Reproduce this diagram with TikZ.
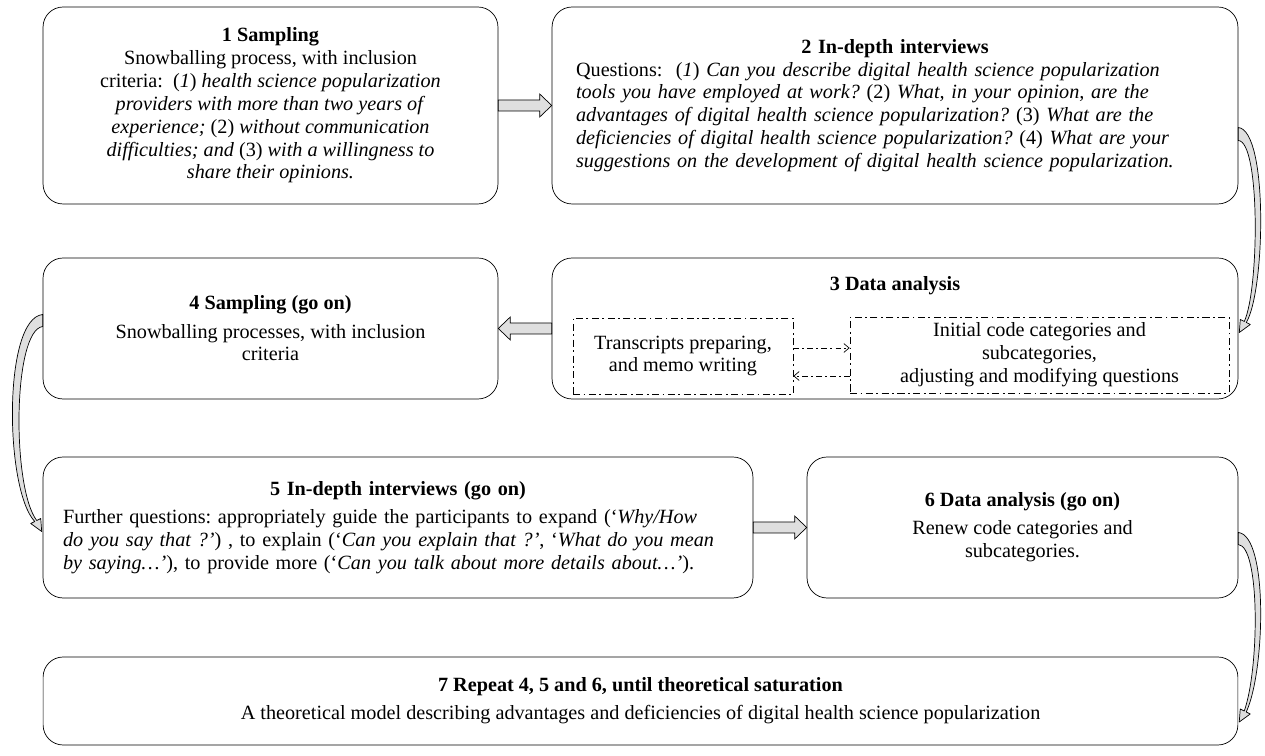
\documentclass[tikz,border=0pt]{standalone}
\usepackage{fontspec}
\setmainfont{Liberation Serif}
\usetikzlibrary{arrows.meta,calc,positioning}
\frenchspacing

% straight block arrow between two anchors (#3 = signed head length)
\newcommand{\blockarrow}[3]{%
  \filldraw[blockarr] ($(#1)+(0,-5.5)$) -- ($(#2)+(#3,-5.5)$) -- ($(#2)+(#3,-11.5)$) -- (#2)
    -- ($(#2)+(#3,11.5)$) -- ($(#2)+(#3,5.5)$) -- ($(#1)+(0,5.5)$) -- cycle;}

\begin{document}
\begin{tikzpicture}[x=0.02cm, y=-0.02cm,
    every node/.style={font=\fontsize{11.5}{13}\selectfont},
    stage/.style={draw, rounded corners=0.4cm, align=center, inner sep=0pt},
    inbox/.style={draw, dash pattern=on 4pt off 2pt on 1pt off 2pt, align=center, inner sep=0pt},
    blockarr/.style={draw, fill=gray!25, line join=miter},
    bendarr/.style={draw, fill=gray!25, line join=round},
    dashlink/.style={dash pattern=on 3pt off 2pt on 1pt off 2pt, -{Straight Barb[length=3pt,width=5pt]}}]
\useasboundingbox (0,0) rectangle (1265,756);

% row 1
\node[stage, minimum width=9.1cm, minimum height=3.94cm] (s1) at (270.5,105.5)
  {\textbf{1 Sampling}\\
   Snowballing process, with inclusion\\
   criteria:~~(\textit{1}) \textit{health science popularization}\\
   \textit{providers with more than two years of}\\
   \textit{experience;} (2) \textit{without communication}\\
   \textit{difficulties; and} (3) \textit{with a willingness to}\\
   \textit{share their opinions.}};
\node[stage, minimum width=13.72cm, minimum height=3.94cm, text width=12.76cm, align=left] (s2) at (895,105.5)
  {{\centering\textbf{2 In-depth interviews}\par}
   Questions:~~(\textit{1}) \textit{Can you describe digital health science popularization}\\
   \textit{tools you have employed at work?} (2) \textit{What, in your opinion, are the}\\
   \textit{advantages of digital health science popularization?} (3) \textit{What are the}\\
   \textit{deficiencies of digital health science popularization?} (4) \textit{What are your}\\
   \textit{suggestions on the development of digital health science popularization.}};

% row 2
\node[stage, minimum width=13.72cm, minimum height=2.82cm] (s3) at (895,328.5) {};
\node (t3) at (895,286) {\textbf{3 Data analysis}};
\node[inbox, minimum width=4.4cm, minimum height=1.52cm] (d1) at (683,356)
  {Transcripts preparing,\\ and memo writing};
\node[inbox, minimum width=7.58cm, minimum height=1.52cm] (d2) at (1039.5,355)
  {Initial code categories and\\ subcategories,\\ adjusting and modifying questions};
\node[stage, minimum width=9.1cm, minimum height=2.82cm] (s4) at (270.5,328.5)
  {\textbf{4 Sampling (go on)}\\[3pt]
   Snowballing processes, with inclusion\\ criteria};

% row 3
\node[stage, minimum width=14.2cm, minimum height=2.82cm, text width=13.4cm, align=left] (s5) at (398,527.5)
  {{\centering\textbf{5 In-depth interviews (go on)}\par}\vspace{3pt}
   Further questions: appropriately guide the participants to expand (`\textit{Why/How}\\
   \textit{do you say that ?'}) , to explain (`\textit{Can you explain that ?'}, `\textit{What do you mean}\\
   \textit{by saying\ldots'}), to provide more (`\textit{Can you talk about more details about\ldots'}).};
\node[stage, minimum width=8.62cm, minimum height=2.82cm] (s6) at (1022.5,527.5)
  {\textbf{6 Data analysis (go on)}\\[3pt]
   Renew code categories and\\ subcategories.};

% row 4
\node[stage, minimum width=23.9cm, minimum height=1.76cm] (s7) at (640.5,701)
  {\textbf{7 Repeat 4, 5 and 6, until theoretical saturation}\\[3pt]
   A theoretical model describing advantages and deficiencies of digital health science popularization};

% straight arrows
\blockarrow{s1.east}{s2.west}{-12}
\blockarrow{s3.west}{s4.east}{12}
\blockarrow{s5.east}{s6.west}{-12}

\draw[dashlink] ($(d1.east)+(0,-8)$) -- ($(d2.west)+(0,-7)$);
\draw[dashlink] ($(d2.west)+(0,21)$) -- ($(d1.east)+(0,20)$);

% bent arrows
\filldraw[bendarr] ($(s2.east)+(0,22)$) .. controls ($(s2.east)+(30,25)$) and ($(s3.east)+(27,-38)$) .. ($(s3.east)+(8,-6)$)
  -- ($(s3.east)+(12,-4)$) -- ($(s3.east)+(1,4)$) -- ($(s3.east)+(2,-9)$) -- ($(s3.east)+(6,-7)$)
  .. controls ($(s3.east)+(21,-40)$) and ($(s2.east)+(22,36)$) .. ($(s2.east)+(0,35)$) -- cycle;
\filldraw[bendarr] ($(s4.west)+(0,-14)$) .. controls ($(s4.west)+(-40,-10)$) and ($(s5.west)+(-38,-38)$) .. ($(s5.west)+(-8,-6)$)
  -- ($(s5.west)+(-12,-4)$) -- ($(s5.west)+(-1,4)$) -- ($(s5.west)+(-2,-9)$) -- ($(s5.west)+(-6,-7)$)
  .. controls ($(s5.west)+(-31,-40)$) and ($(s4.west)+(-30,2)$) .. ($(s4.west)+(0,-2)$) -- cycle;
\filldraw[bendarr] ($(s6.east)+(0,5)$) .. controls ($(s6.east)+(30,8)$) and ($(s7.east)+(27,-30)$) .. ($(s7.east)+(8,11)$)
  -- ($(s7.east)+(12,13)$) -- ($(s7.east)+(1,21)$) -- ($(s7.east)+(2,8)$) -- ($(s7.east)+(6,10)$)
  .. controls ($(s7.east)+(21,-32)$) and ($(s6.east)+(22,19)$) .. ($(s6.east)+(0,17)$) -- cycle;
\end{tikzpicture}
\end{document}
